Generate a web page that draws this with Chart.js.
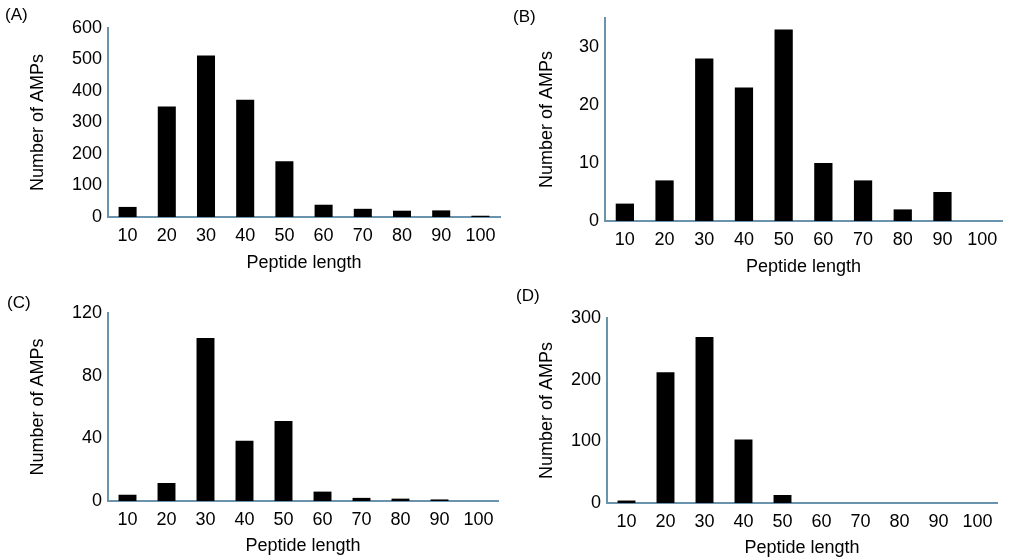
<!DOCTYPE html>
<html>
<head>
<meta charset="utf-8">
<script src="https://cdn.jsdelivr.net/npm/chart.js@4/dist/chart.umd.min.js"></script>
<style>
  body { margin: 0; background: #fff; }
  #wrap { position: relative; width: 1009px; height: 559px; overflow: hidden; }
  canvas { position: absolute; }
  .tag { position: absolute; font: 17px "Liberation Sans", Arial, sans-serif; color: #000; }
</style>
</head>
<body>
<div id="wrap">
  <canvas id="chartA" style="left:0;top:0"></canvas>
  <canvas id="chartB" style="left:500px;top:0"></canvas>
  <canvas id="chartC" style="left:0;top:280px"></canvas>
  <canvas id="chartD" style="left:500px;top:280px"></canvas>
  <div class="tag" style="left:5px;top:5px">(A)</div>
  <div class="tag" style="left:513px;top:7px">(B)</div>
  <div class="tag" style="left:7px;top:293px">(C)</div>
  <div class="tag" style="left:516px;top:286px">(D)</div>
</div>
<script>
// peptide length bins
const lengths = ['10', '20', '30', '40', '50', '60', '70', '80', '90', '100'];

// number of AMPs per length bin, one array per panel
const countsA = [32, 351, 513, 372, 177, 39, 26, 20, 21, 4];
const countsB = [3, 7, 28, 23, 33, 10, 7, 2, 5, 0];
const countsC = [4, 11.5, 104, 38.5, 51, 6, 2, 1.5, 1, 0];
const countsD = [4, 212, 269, 103, 13, 0, 0, 0, 0, 0];

// y axis ranges
const yMaxA = 600, yStepA = 100;
const yMaxB = 35, yStepB = 10;
const yMaxC = 120, yStepC = 40;
const yMaxD = 300, yStepD = 100;

const axisColor = '#6a94ad';
const textColor = '#000';
const font = { family: '"Liberation Sans", Arial, sans-serif', size: 18 };

function panel(id, data, yMax, yStep, box) {
  const canvas = document.getElementById(id);
  canvas.width = box.w;
  canvas.height = box.h;
  return new Chart(canvas, {
    type: 'bar',
    data: {
      labels: lengths,
      datasets: [{
        data: data,
        backgroundColor: '#000',
        barPercentage: 0.46,
        categoryPercentage: 1
      }]
    },
    options: {
      responsive: false,
      animation: false,
      layout: { padding: { left: 0, top: box.top, right: box.w - box.right, bottom: 0 } },
      plugins: { legend: { display: false }, tooltip: { enabled: false } },
      scales: {
        x: {
          grid: { display: false, drawTicks: false },
          border: { display: true, color: axisColor, width: 2 },
          ticks: { color: textColor, font: font, padding: 8, maxRotation: 0, autoSkip: false },
          title: { display: true, text: 'Peptide length', color: textColor, font: font, padding: { top: 0, bottom: box.xPad } },
          afterFit: s => { s.height = box.h - box.bottom; }
        },
        y: {
          min: 0,
          max: yMax,
          grid: { display: false, drawTicks: false },
          border: { display: true, color: axisColor, width: 2 },
          ticks: {
            stepSize: yStep,
            color: textColor,
            font: font,
            padding: 6,
            callback: v => (v % yStep === 0 ? v : '')
          },
          title: { display: true, text: 'Number of AMPs', color: textColor, font: font, padding: { top: box.yPad, bottom: 0 } },
          afterFit: s => { s.width = box.left; }
        }
      }
    }
  });
}

panel('chartA', countsA, yMaxA, yStepA, { w: 505, h: 280, left: 108, top: 28, right: 500, bottom: 217, xPad: 6, yPad: 27 });
panel('chartB', countsB, yMaxB, yStepB, { w: 509, h: 280, left: 105, top: 18, right: 502, bottom: 221, xPad: 2, yPad: 36 });
panel('chartC', countsC, yMaxC, yStepC, { w: 505, h: 279, left: 108, top: 33, right: 498, bottom: 221, xPad: 2, yPad: 27 });
panel('chartD', countsD, yMaxD, yStepD, { w: 509, h: 279, left: 107, top: 38, right: 497, bottom: 223, xPad: 0, yPad: 36 });
</script>
</body>
</html>
